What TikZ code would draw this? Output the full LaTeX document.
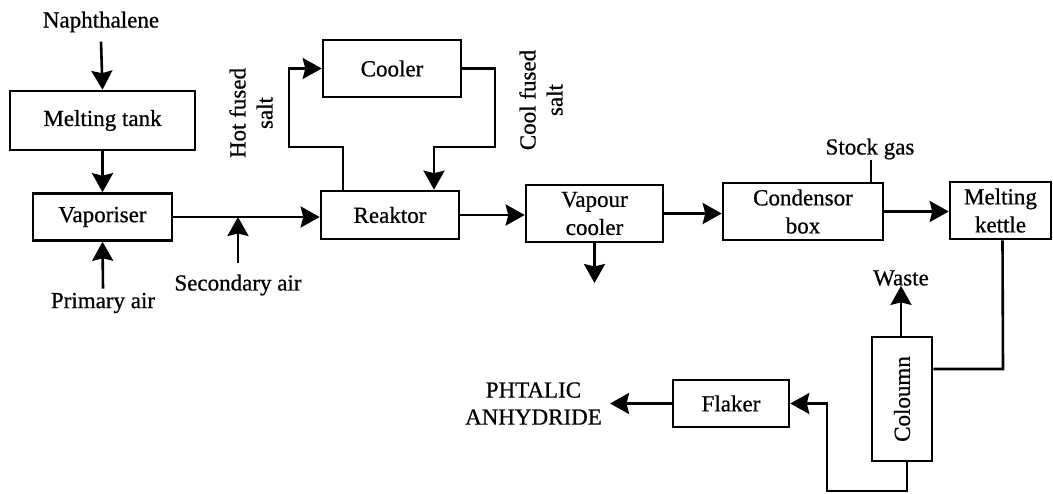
\documentclass[tikz,border=0pt]{standalone}
\usepackage{fontspec}
\setmainfont{Liberation Serif}
\newfontfamily\scanfont[FakeBold=0.7]{Liberation Serif}
\usetikzlibrary{arrows.meta}
\begin{document}
\begin{tikzpicture}[x=1pt,y=-1pt,
  box/.style={draw,line width=2.6pt,inner sep=0pt,align=center,font=\scanfont\fontsize{23}{28}\selectfont},
  lbl/.style={inner sep=0pt,align=center,font=\scanfont\fontsize{23}{27}\selectfont},
  ln/.style={line width=2.6pt},
  arr/.style={line width=2.6pt,-{Stealth[length=19pt,width=21pt,inset=2.5pt]}}]
\useasboundingbox[fill=white] (0,0) rectangle (1053,494);

% boxes
\node[box,minimum width=185pt,minimum height=59pt] (melt) at (102.5,120.5) {Melting tank};
\node[box,minimum width=139pt,minimum height=47pt] (vap) at (102.5,217) {Vaporiser};
\node[box,minimum width=138pt,minimum height=48pt] (reak) at (390,215) {Reaktor};
\node[box,minimum width=138pt,minimum height=57pt] (cooler) at (392,68.5) {Cooler};
\node[box,minimum width=137pt,minimum height=57pt] (vc) at (594.5,213.5) {Vapour\\cooler};
\node[box,minimum width=160pt,minimum height=57pt] (cond) at (803,211.5) {Condensor\\box};
\node[box,minimum width=101pt,minimum height=57pt] (kettle) at (1000.5,210.5) {Melting\\kettle};
\node[box,minimum width=60pt,minimum height=124pt] (col) at (902,399) {};
\node[lbl,rotate=90] (coltxt) at (col) {Coloumn};
\node[box,minimum width=116pt,minimum height=47pt] (flaker) at (731,403.5) {Flaker};

% labels
\node[lbl] (naph) at (101,22) {Naphthalene};
\node[lbl] (prim) at (103,303) {Primary air};
\node[lbl] (sec) at (238,285) {Secondary air};
\node[lbl,rotate=90] (hot) at (251,113) {Hot fused\\salt};
\node[lbl,rotate=90] (cool) at (541,100) {Cool fused\\salt};
\node[lbl] (stock) at (870,149) {Stock gas};
\node[lbl] (waste) at (901,278) {Waste};
\node[lbl] (pa) at (533.5,403.5) {PHTALIC\\ANHYDRIDE};

\coordinate (secj) at (238,217);
\coordinate (vcout) at (594.5,283);

% connectors
\draw[arr] ([yshift=-9pt]naph.south) -- (melt.north);
\draw[arr] (melt.south) -- (vap.north);
\draw[arr] ([yshift=4pt]prim.north) -- (vap.south);
\draw[arr] (vap.east) -- (vap.east -| reak.west);
\draw[arr] ([yshift=11pt]sec.north) -- (secj);
\draw[arr] ([xshift=-47pt]reak.north) -- (343,147) -- (289,147) -- (289,68.5) -- (cooler.west);
\draw[arr] (cooler.east) -- (495,68.5) -- (495,147) -- (434,147) -- ([xshift=44pt]reak.north);
\draw[arr] (reak.east) -- (reak.east -| vc.west);
\draw[arr] (vc.south) -- (vcout);
\draw[arr] (vc.east) -- (vc.east -| cond.west);
\draw[arr] (cond.east) -- (cond.east -| kettle.west);
\draw[ln] ([xshift=68pt]cond.north) -- (stock.south -| 871,0);
\draw[ln] ([xshift=2pt]kettle.south) -- (1003,369) -- ([yshift=30pt]col.east);
\draw[arr] ([xshift=-1pt]col.north) -- (waste.south);
\draw[arr] ([xshift=5pt]col.south) -- (907,491) -- (827,491) -- (827,403.5) -- (flaker.east);
\draw[arr] (flaker.west) -- ([xshift=8pt]pa.east);
\end{tikzpicture}
\end{document}
